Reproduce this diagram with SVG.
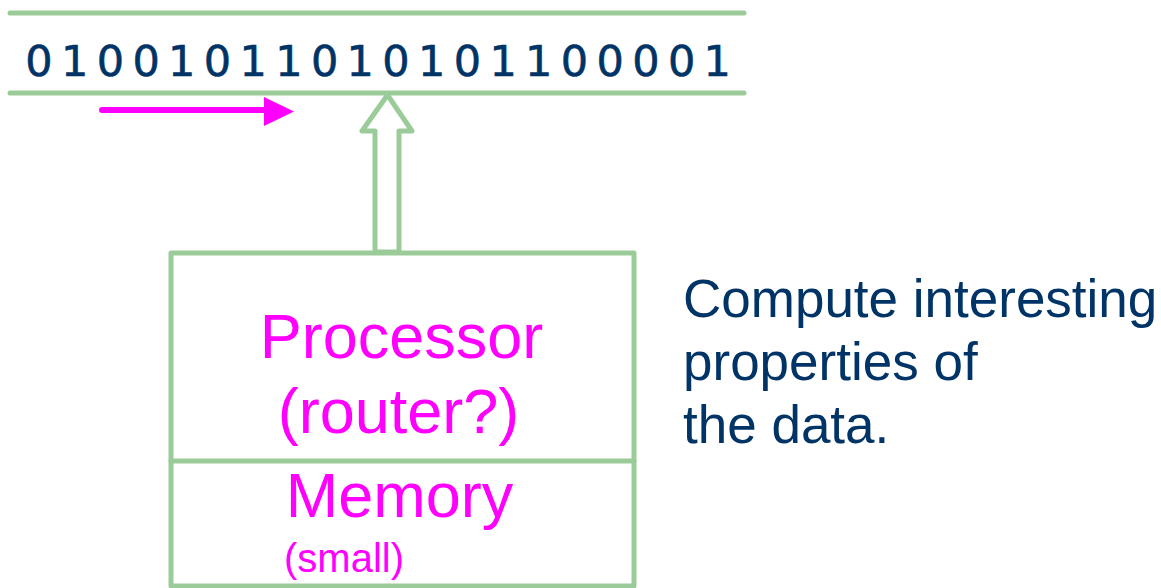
<svg xmlns="http://www.w3.org/2000/svg" width="1161" height="588" viewBox="0 0 1161 588">
<style>
.g{stroke:#9BCB98;stroke-width:5;fill:none;stroke-linecap:round;stroke-linejoin:round}
.m{fill:#FF00FF;font-family:"Liberation Sans",Arial,sans-serif}
.b{fill:#003366;font-family:"Liberation Sans",Arial,sans-serif;font-size:53px}
</style>
<rect width="1161" height="588" fill="#ffffff"/>
<g id="tape">
<line class="g" x1="10" y1="13" x2="744" y2="13"/>
<line class="g" x1="10" y1="93" x2="744" y2="93"/>
<text y="76" font-family="DejaVu Sans,sans-serif" font-size="43" fill="#003366" stroke="#003366" stroke-width="0.6" text-anchor="middle" x="39 74.7 110.4 146.1 181.8 217.5 253.2 288.9 324.6 360.3 396 431.7 467.4 503.1 538.8 574.5 610.2 645.9 681.6 717.3">01001011010101100001</text>
</g>
<g id="connectors">
<line x1="102" y1="110" x2="266" y2="110" stroke="#FF00FF" stroke-width="6" stroke-linecap="round"/>
<polygon points="264,97 294,111.5 264,126" fill="#FF00FF"/>
<polygon class="g" points="387.5,95 362,131 375,131 375,252 399,252 399,131 412,131"/>
</g>
<g id="processor">
<rect class="g" x="171" y="253" width="463" height="333" stroke-linecap="butt"/>
<line class="g" x1="171" y1="461" x2="634" y2="461"/>
<text class="m" x="401.5" y="358" font-size="63" text-anchor="middle">Processor</text>
<text class="m" x="398.5" y="433" font-size="63" text-anchor="middle">(router?)</text>
</g>
<g id="memory">
<text class="m" x="399.5" y="517" font-size="63" text-anchor="middle">Memory</text>
<text class="m" x="284" y="572" font-size="40">(small)</text>
</g>
<g id="note">
<text class="b" x="683" y="317">Compute interesting</text>
<text class="b" x="683" y="380">properties of</text>
<text class="b" x="683" y="443">the data.</text>
</g>
</svg>
